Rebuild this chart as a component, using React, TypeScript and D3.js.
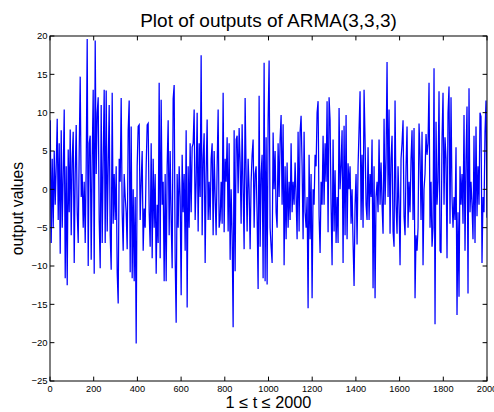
import React from "react";
import * as d3 from "d3";

// Output values, left to right (approx. one sample per pixel column)
const seg1 = [9.0, -7, 4, -5, 5, -2, 3, 9.2, -4, 6, -8.4, 7.7, -5, 2, 10.4, -11.6, 3, -12.5, 5.2, -3, 7.8, -6, 4, 7.5, -9.6, 2, 8.4, -3, -7, 5, 14.7, -1, 2, -5, 1, -7, 3, 19.6, -10, 6, 7, -9.2, 4, 13.0, -11, 19.4, 2, 10, 12, -4, -10.3, 11, -7, 4, 13, -7];
const seg2 = [12.9, -5.5, 3, 11.0, -6, -10.5, 12.6, -4.5, 2, -4, 3, -10.8, -14.9, 4, 1, 11.9, -3, -8, 2, -1, -3, -7.8, 7.7, 11.6, -10.8, 8.2, -11.6, 0, -12, -1, -20.1, 3, 8.2, 8.4, -4, 1, 5, -8, -2.5, -5, 3, 8.4, 8.6, -3, -7.5, 6, -9, 4, -5, 2, -11, -2, -7, 13.9, -9];
const seg3 = [11.7, -2, 1, -12, 2, -12, 3, 9.0, -6, 5, -4, -10.3, 11.8, 13.6, -9, -17.4, 2, -5, 3, -1, -13.8, 4.5, -3, 2, -8, 7.7, -15.4, 3, -5, 6, -3, 5.5, 6, 10.4, -4, 1, 10, -5.5, 6, -1, 17.5, -6, 4, 7.3, -9.6, 2, 9.1, -4, 1, -4, 4, 6, -6, 5, -1];
const seg4 = [-6, 3, 10.4, -5, -4, 1, -4.5, 12.6, -5.6, 4, 1, 6.8, -5.5, 6, -9.2, 0, -6, -18.0, 7.7, -10.7, 6.5, 7, -0.5, 8, 3.5, -4.5, 8.5, 0, -7.8, 11.9, 2, -5.5, 4, 0, -7.8, 1, 4.5, 6.5, -5, 2, 3, -3.5, -13, 12.2, -7.5, 2, 4.5, -11.6, 16.5, -12, 6.8, -12.4, 9, 16.8, -5];
const seg5 = [-7.5, -9.6, 7.4, 0, 5, -3, -5, 6, -1, 6.5, 9.7, -2, 8.5, -9.9, 3, -6.5, 3.5, -5, 1, -4, 6, -3, 1, -2, 3.5, -1, -6.5, 7.5, -5.5, 7.5, 9.6, 3, -6.5, 7.5, -3, -5, -1, -15.5, 4.5, -6.5, 2, -14.2, 0, -2, 4.5, 3, 10, 11.5, -3.5, -8.3, 1, -2, 7.0, -2, 6];
const seg6 = [1, 11.5, -5.6, 12.0, 9, -2, -9.9, 6.5, -5.5, 2.5, -7, -1, -7, 10.6, 0, 3, 7.7, -9.6, 8.3, -6, 9.7, -6.5, 3.4, 0, 3, -4.5, 0, -7, -12.6, -2, 2, -7.2, 3, 7.9, 12.8, -4, 4.5, -5, 13.0, 6.5, -2, -4, 5.5, -4, 2, -1, 6.5, -12.9, 3, -14.2, -1, 1, -3, 6.5, -2];
const seg7 = [3.5, -2, -5.8, 9.2, -2, 4, 16.6, -1, 10.4, -5.8, 4, 7, -5.5, -7.5, 11.6, -2, -5.8, 3, -2, -9.9, 4, 6, 9.0, -3.5, -6, 3, 8.2, -5, 1, -3, 4, 7.7, -4, 8, -14.2, -6, -8, -5, 8.6, 4.5, -4, 7.5, -9.9, 0, 2, 7.2, 4.5, 6, 13.9, -5, 1, -7.5, -5, 15.8, -17.6];
const seg8 = [8.8, -2, 1, 12.8, -8.0, -8.3, 6.5, 12.6, -2, 6.8, 4, -9.0, 10.0, 13.4, -4.5, 12.0, -1, -5, -1, -4, 5.5, -16.4, -3, -14, 3, -2, 2, -4.5, 9.7, -8, 4, 10.8, -13.6, 13.2, -3, 1, -2, -6.5, 7, -7, 8.2, -3.5, 3, -2, 10.0, 9.5, -9.6, -1, -3, 7.5, 11.6, -3.7];

const values: number[] = [...seg1, ...seg2, ...seg3, ...seg4, ...seg5, ...seg6, ...seg7, ...seg8];

const xTicks = [0, 200, 400, 600, 800, 1000, 1200, 1400, 1600, 1800, 2000];
const yTicks = [-25, -20, -15, -10, -5, 0, 5, 10, 15, 20];

const W = 494;
const H = 412;
const L = 50, R = 487, T = 36, B = 381;

export default function App() {
  const x = d3.scaleLinear().domain([0, 2000]).range([L, R]);
  const y = d3.scaleLinear().domain([-25, 20]).range([B, T]);
  const N = values.length;
  const pts: [number, number][] = values.map((v, i) => [1 + (i * 1999) / (N - 1), v]);
  const line = d3
    .line<[number, number]>()
    .x((d) => x(d[0]))
    .y((d) => y(d[1]));
  const tl = 4.4;
  const fmt = (v: number) => (v < 0 ? "\u2212" + Math.abs(v) : String(v));
  return (
    <svg
      width={W}
      height={H}
      style={{ position: "absolute", left: 0, top: 0, background: "#fff" }}
      fontFamily="'Liberation Sans', Arial, Helvetica, sans-serif"
    >
      <rect x={0} y={0} width={W} height={H} fill="#fff" />
      <defs>
        <clipPath id="pc">
          <rect x={L} y={T} width={R - L} height={B - T} />
        </clipPath>
      </defs>
      <path d={line(pts) || ""} fill="none" stroke="#0000ff" strokeWidth={1.25} clipPath="url(#pc)" />
      <rect x={L} y={T} width={R - L} height={B - T} fill="none" stroke="#000" strokeWidth={1} />
      {xTicks.map((t) => (
        <g key={"x" + t}>
          <line x1={x(t)} x2={x(t)} y1={B} y2={B - tl} stroke="#000" strokeWidth={1} />
          <line x1={x(t)} x2={x(t)} y1={T} y2={T + tl} stroke="#000" strokeWidth={1} />
          <text x={x(t)} y={391.8} fontSize={9.2} textAnchor="middle" fill="#000">
            {t}
          </text>
        </g>
      ))}
      {yTicks.map((t) => (
        <g key={"y" + t}>
          <line x1={L} x2={L + tl} y1={y(t)} y2={y(t)} stroke="#000" strokeWidth={1} />
          <line x1={R} x2={R - tl} y1={y(t)} y2={y(t)} stroke="#000" strokeWidth={1} />
          <text x={47.5} y={y(t) + 3.2} fontSize={9.5} textAnchor="end" fill="#000">
            {fmt(t)}
          </text>
        </g>
      ))}
      <text x={(L + R) / 2} y={26.5} fontSize={19} textAnchor="middle" fill="#000">
        Plot of outputs of ARMA(3,3,3)
      </text>
      <text x={(L + R) / 2} y={407.5} fontSize={16.3} textAnchor="middle" fill="#000">
        1 ≤ t ≤ 2000
      </text>
      <text
        transform={`translate(22.5,${(T + B) / 2}) rotate(-90)`}
        fontSize={15.7}
        textAnchor="middle"
        fill="#000"
      >
        output values
      </text>
    </svg>
  );
}
